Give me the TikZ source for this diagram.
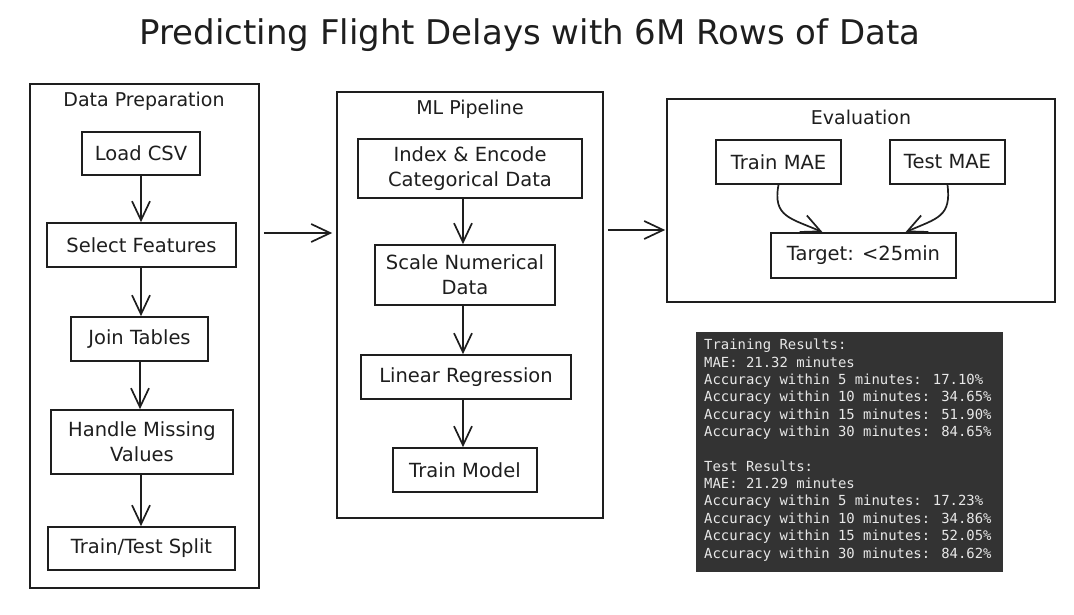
\documentclass[tikz,border=0pt]{standalone}
\usepackage{fontspec}
\setmainfont{DejaVu Sans}
\newfontfamily\codefont{DejaVu Sans Mono}
\usetikzlibrary{arrows.meta,calc}
\definecolor{ink}{HTML}{1E1E1E}
\definecolor{term}{HTML}{333333}
\definecolor{termtext}{HTML}{E8E8E8}
\begin{document}
\begin{tikzpicture}[x=1pt,y=-1pt,
 box/.style={draw=ink, line width=1.7pt, align=center, inner sep=0pt, font=\fontsize{19.5}{25}\selectfont, text=ink},
 frame/.style={draw=ink, line width=1.7pt, inner sep=0pt},
 ftitle/.style={font=\fontsize{19}{22}\selectfont, text=ink},
 arr/.style={draw=ink, line width=1.7pt, -{Straight Barb[length=19pt,width=18pt,line width=1.7pt]}},
]
\useasboundingbox (0,0) rectangle (1074,615);
\fill[white] (0,0) rectangle (1074,615);

\node[font=\fontsize{34}{40}\selectfont, text=ink] (title) at (530,35) {Predicting Flight Delays with 6M Rows of Data};

% Data preparation
\node[frame, minimum width=229pt, minimum height=504pt] (prep) at (144.5,336) {};
\node[ftitle] (preptitle) at (144,101) {Data Preparation};
\node[box, minimum width=118pt, minimum height=43pt] (load) at (141,153.5) {Load CSV};
\node[box, minimum width=189pt, minimum height=44pt] (select) at (141.5,245) {Select Features};
\node[box, minimum width=137pt, minimum height=44pt] (join) at (139.5,339) {Join Tables};
\node[box, minimum width=182pt, minimum height=64pt] (missing) at (142,442) {Handle Missing\\Values};
\node[box, minimum width=187pt, minimum height=43pt] (split) at (141.5,548.5) {Train/Test Split};
\draw[arr] (load.south -| 141,0) -- (select.north -| 141,0);
\draw[arr] (select.south -| 141,0) -- (join.north -| 141,0);
\draw[arr] (join.south -| 140,0) -- (missing.north -| 140,0);
\draw[arr] (missing.south -| 141,0) -- (split.north -| 141,0);

% ML pipeline
\node[frame, minimum width=266pt, minimum height=426pt] (ml) at (470,305) {};
\node[ftitle] (mltitle) at (470,109) {ML Pipeline};
\node[box, minimum width=224pt, minimum height=59pt] (index) at (470,168.5) {Index \& Encode\\Categorical Data};
\node[box, minimum width=180pt, minimum height=60pt] (scale) at (465,275) {Scale Numerical\\Data};
\node[box, minimum width=210pt, minimum height=44pt] (linreg) at (466,377) {Linear Regression};
\node[box, minimum width=144pt, minimum height=44pt] (train) at (465,470) {Train Model};
\draw[arr] (index.south -| 463,0) -- (scale.north -| 463,0);
\draw[arr] (scale.south -| 463,0) -- (linreg.north -| 463,0);
\draw[arr] (linreg.south -| 463,0) -- (train.north -| 463,0);

% Evaluation
\node[frame, minimum width=388pt, minimum height=203pt] (eval) at (861,200.5) {};
\node[ftitle] (evaltitle) at (861,117) {Evaluation};
\node[box, minimum width=125pt, minimum height=44pt] (trmae) at (778.5,162) {Train MAE};
\node[box, minimum width=115pt, minimum height=44pt] (temae) at (947.5,162) {Test MAE};
\node[box, minimum width=185pt, minimum height=45pt] (target) at (863.5,255.5) {Target: <25min};
\draw[arr] (trmae.south) .. controls +(-6,32) and +(-32,-14) .. ([xshift=-41pt]target.north);
\draw[arr] (temae.south) .. controls +(4,32) and +(32,-14) .. ([xshift=42pt]target.north);

% inter-container arrows
\draw[arr] ($(prep.east)+(4,-103)$) -- ($(ml.west)+(-4,-72)$);
\draw[arr] ($(ml.east)+(4,-75)$) -- ($(eval.west)+(-1,29.5)$);

% results terminal
\node[fill=term, minimum width=307pt, minimum height=240pt, inner sep=0pt] (results) at (849.5,452) {};
\node[anchor=north west, align=left, text=termtext, inner sep=0pt,
      font=\codefont\fontsize{13.9}{17.35}\selectfont] (restext) at (704,339)
{Training Results:\\
MAE: 21.32 minutes\\
Accuracy within 5 minutes: 17.10\%\\
Accuracy within 10 minutes: 34.65\%\\
Accuracy within 15 minutes: 51.90\%\\
Accuracy within 30 minutes: 84.65\%\\[17.35pt]
Test Results:\\
MAE: 21.29 minutes\\
Accuracy within 5 minutes: 17.23\%\\
Accuracy within 10 minutes: 34.86\%\\
Accuracy within 15 minutes: 52.05\%\\
Accuracy within 30 minutes: 84.62\%};
\end{tikzpicture}
\end{document}
